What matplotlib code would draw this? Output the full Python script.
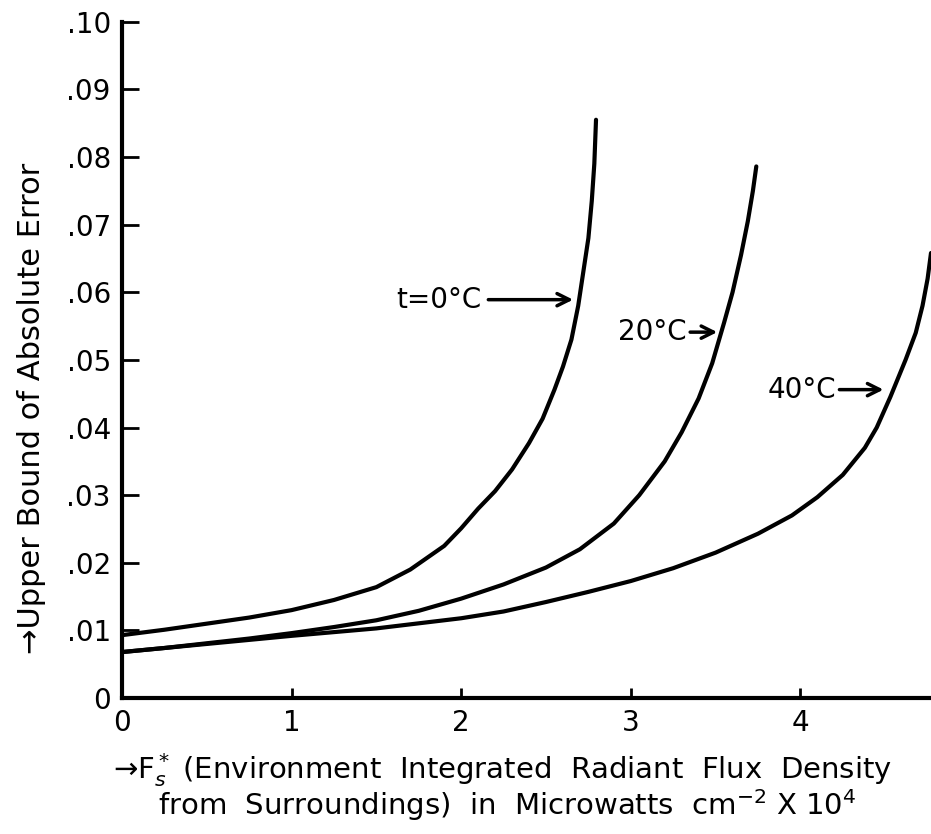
import numpy as np
import matplotlib
matplotlib.use('Agg')
import matplotlib.pyplot as plt

# values (x in Microwatts cm^-2 x 10^4)
x_0c = [0, 0.25, 0.5, 0.75, 1.0, 1.25, 1.5, 1.7, 1.9, 2.0, 2.1, 2.2, 2.3, 2.4,
        2.48, 2.55, 2.6, 2.65, 2.69, 2.72, 2.75, 2.77, 2.785, 2.795]
y_0c = [0.0093, 0.0101, 0.0110, 0.0119, 0.0130, 0.0145, 0.0164, 0.0190, 0.0225, 0.0251,
        0.0280, 0.0306, 0.0338, 0.0377, 0.0413, 0.0456, 0.0490, 0.0530, 0.0580, 0.0630,
        0.0680, 0.0735, 0.0790, 0.0855]

x_20c = [0, 0.25, 0.5, 0.75, 1.0, 1.25, 1.5, 1.75, 2.0, 2.25, 2.5, 2.7, 2.9, 3.05,
         3.2, 3.3, 3.4, 3.48, 3.55, 3.6, 3.65, 3.69, 3.72, 3.74]
y_20c = [0.0068, 0.0074, 0.0081, 0.0088, 0.0096, 0.0105, 0.0115, 0.0129, 0.0147, 0.0168,
         0.0193, 0.0220, 0.0258, 0.0300, 0.0350, 0.0393, 0.0443, 0.0495, 0.0555, 0.0600,
         0.0655, 0.0705, 0.0750, 0.0786]

x_40c = [0, 0.5, 1.0, 1.5, 2.0, 2.25, 2.5, 2.75, 3.0, 3.25, 3.5, 3.75, 3.95, 4.1,
         4.25, 4.38, 4.45, 4.53, 4.62, 4.68, 4.72, 4.75, 4.77]
y_40c = [0.0068, 0.0080, 0.0092, 0.0103, 0.0118, 0.0128, 0.0142, 0.0157, 0.0173, 0.0192,
         0.0215, 0.0243, 0.0270, 0.0297, 0.0330, 0.0370, 0.0400, 0.0445, 0.0500, 0.0540,
         0.0580, 0.0620, 0.0658]

xticks = [0, 1, 2, 3, 4]
yticks = [0, 0.01, 0.02, 0.03, 0.04, 0.05, 0.06, 0.07, 0.08, 0.09, 0.10]
ytick_labels = ['0', '.01', '.02', '.03', '.04', '.05', '.06', '.07', '.08', '.09', '.10']

plt.rcParams['font.family'] = ['DejaVu Sans']
fig = plt.figure(figsize=(9.31, 8.34), dpi=100)
ax = fig.add_axes([0.131, 0.163, 0.869, 0.811])

for xs, ys in [(x_0c, y_0c), (x_20c, y_20c), (x_40c, y_40c)]:
    ax.plot(xs, ys, color='black', lw=3, solid_joinstyle='round', solid_capstyle='round')

ax.set_xlim(0, 4.77)
ax.set_ylim(0, 0.10)
ax.spines['top'].set_visible(False)
ax.spines['right'].set_visible(False)
ax.spines['left'].set_linewidth(3)
ax.spines['bottom'].set_linewidth(3)

ax.set_xticks(xticks)
ax.set_xticklabels([str(t) for t in xticks], fontsize=20)
ax.set_yticks(yticks)
ax.set_yticklabels(ytick_labels, fontsize=20)
ax.tick_params(axis='y', direction='in', length=12, width=2, pad=8)
ax.tick_params(axis='x', direction='in', length=7, width=2, pad=8)

# curve labels: text right edge, arrow start, arrow end
labels = [('t=0°C', 0.0589, 2.12, 2.16, 2.66),
          ('20°C', 0.0541, 3.33, 3.35, 3.51),
          ('40°C', 0.0456, 4.21, 4.23, 4.49)]
for txt, ty, tx, a0, a1 in labels:
    ax.text(tx, ty, txt, fontsize=20, va='center', ha='right')
    ax.annotate('', xy=(a1, ty), xytext=(a0, ty),
                arrowprops=dict(arrowstyle='->', lw=2.5, color='black',
                                mutation_scale=22, shrinkA=0, shrinkB=0))

fig.text(0.034, 0.51, '→Upper Bound of Absolute Error', rotation=90,
         fontsize=22, ha='center', va='center')
fig.text(0.54, 0.077, r'→F$_s^*$ (Environment  Integrated  Radiant  Flux  Density',
         fontsize=21, ha='center', va='center')
fig.text(0.545, 0.035, r'from  Surroundings)  in  Microwatts  cm$^{-2}$ X 10$^{4}$',
         fontsize=21, ha='center', va='center')

fig.savefig('out.png', dpi=100)
